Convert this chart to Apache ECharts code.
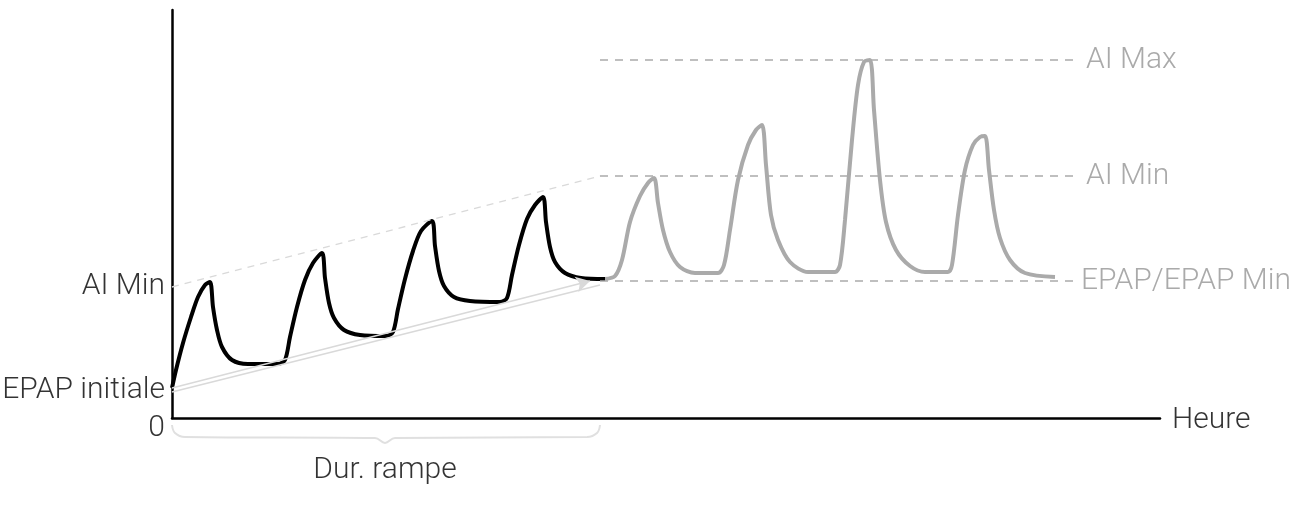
<!DOCTYPE html>
<html>
<head>
<meta charset="utf-8">
<script src="https://cdn.jsdelivr.net/npm/echarts@6/dist/echarts.min.js"></script>
<style>
  html, body { margin: 0; padding: 0; background: #fff; }
  #main { width: 1299px; height: 507px; }
</style>
</head>
<body>
<div id="main"></div>
<script>
// unités schématiques : x = temps, y = pression
var rampWave = [
    [0, 30], [4, 48], [11, 75], [19, 101], [26, 121], [33, 133], [38, 136],
    [41, 111], [45, 88], [50, 71], [60, 58], [76, 54], [106, 54],
    [113, 58], [118, 81], [125, 111], [133, 138], [141, 155], [150, 165],
    [153, 140], [157, 115], [162, 100], [172, 88], [188, 83], [214, 82],
    [221, 86], [226, 109], [233, 139], [241, 167], [249, 187], [260, 197],
    [263, 172], [267, 147], [272, 132], [282, 121], [298, 117], [328, 116],
    [335, 120], [340, 143], [347, 173], [355, 199], [363, 213], [371, 221],
    [374, 196], [378, 171], [383, 156], [393, 145], [409, 140], [433, 139]
];
var steadyWave = [
    [433, 139], [443, 142], [450, 158], [458, 196], [468, 222], [476, 235], [482, 240],
    [486, 215], [491, 188], [498, 166], [508, 151], [523, 145], [546, 145],
    [552, 153], [558, 188], [566, 238], [576, 273], [584, 288], [590, 293],
    [594, 253], [599, 203], [606, 178], [618, 156], [636, 146], [663, 146],
    [668, 153], [673, 198], [680, 278], [686, 333], [692, 356], [698, 358],
    [702, 308], [708, 238], [714, 196], [724, 168], [738, 152], [753, 146], [776, 146],
    [780, 153], [786, 203], [793, 248], [801, 273], [808, 281], [813, 282],
    [817, 248], [822, 208], [828, 180], [838, 158], [853, 145], [883, 141]
];
var rampEnd = 428;          // fin de la rampe
var epapInit = 28;
var aiMinStart = 131;
// libellé, niveau, fin de ligne
var levels = [['AI Max', 358, 908], ['AI Min', 242, 908], ['EPAP/EPAP Min', 137, 903]];
var yLabels = [['AI Min', 132], ['EPAP initiale', 28], ['0', -10]];
var brace = [
    [0, -7], [3, -15], [13, -19], [203, -20], [213, -25], [223, -20],
    [415, -19], [425, -15], [428, -7]
];

var FONT = 'Roboto, "Liberation Sans", sans-serif';
var FS = 30;

var myChart = echarts.init(document.getElementById('main'));

var levelLines = levels.map(function (l) {
    return [
        {coord: [rampEnd, l[1]], label: {formatter: l[0]}},
        {coord: [l[2], l[1]]}
    ];
});

var option = {
    animation: false,
    grid: {left: 172, right: 139, top: 10, bottom: 89},
    xAxis: {
        type: 'value', min: 0, max: 988,
        axisLine: {lineStyle: {color: '#000', width: 2.5}},
        axisTick: {show: false}, axisLabel: {show: false}, splitLine: {show: false}
    },
    yAxis: {
        type: 'value', min: 0, max: 408,
        axisLine: {show: true, lineStyle: {color: '#000', width: 2.5}},
        axisTick: {show: false}, axisLabel: {show: false}, splitLine: {show: false}
    },
    series: [
        {
            // lignes de guide (rampe)
            type: 'line', data: [], clip: false, silent: true,
            markLine: {
                silent: true, symbol: 'none',
                label: {show: false},
                data: [
                    [{coord: [0, aiMinStart], lineStyle: {color: '#d9d9d9', type: [7, 6], width: 1.3}},
                     {coord: [rampEnd, 242]}],
                    [{coord: [0, epapInit - 2], lineStyle: {color: '#d9d9d9', type: 'solid', width: 1.5}},
                     {coord: [rampEnd, 133]}],
                    [{coord: [rampEnd, -7], lineStyle: {color: '#e3e3e3', type: 'solid', width: 1.5}},
                     {coord: [rampEnd, 367]}]
                ]
            }
        },
        {
            type: 'line', data: [], clip: false, silent: true,
            markLine: {
                silent: true, symbol: ['none', 'arrow'], symbolSize: [12, 14],
                label: {show: false},
                lineStyle: {color: '#d9d9d9', type: 'solid', width: 1.5},
                data: [[{coord: [0, epapInit + 2]}, {coord: [418, 137]}]]
            }
        },
        {
            // niveaux
            type: 'line', data: [], clip: false, silent: true,
            markLine: {
                silent: true, symbol: 'none',
                lineStyle: {color: '#aaaaaa', type: [8, 7], width: 1.5},
                label: {
                    show: true, position: 'end', distance: 6,
                    fontFamily: FONT, fontSize: FS, fontWeight: 300, color: '#aaaaaa'
                },
                data: levelLines
            }
        },
        {
            type: 'line', data: brace, clip: false, smooth: 0.4, symbol: 'none', silent: true,
            lineStyle: {color: '#e0e0e0', width: 2}
        },
        {
            type: 'line', data: steadyWave, clip: false, smooth: 0.3, symbol: 'none',
            lineStyle: {color: '#aaaaaa', width: 4}
        },
        {
            type: 'line', data: rampWave, clip: false, smooth: 0.3, symbol: 'none',
            lineStyle: {color: '#000', width: 4}
        },
        {
            type: 'scatter', clip: false, silent: true, symbolSize: 0,
            data: yLabels.map(function (d) { return {value: [0, d[1]], name: d[0]}; }),
            label: {
                show: true, position: 'left', distance: 7,
                formatter: '{b}', fontFamily: FONT, fontSize: FS, fontWeight: 300, color: '#000'
            }
        },
        {
            type: 'scatter', clip: false, silent: true, symbolSize: 0,
            data: [{value: [988, -2], name: 'Heure'}],
            label: {
                show: true, position: 'right', distance: 12,
                formatter: '{b}', fontFamily: FONT, fontSize: FS, fontWeight: 300, color: '#000'
            }
        },
        {
            type: 'scatter', clip: false, silent: true, symbolSize: 0,
            data: [{value: [213, -52], name: 'Dur. rampe'}],
            label: {
                show: true, position: 'inside',
                formatter: '{b}', fontFamily: FONT, fontSize: FS, fontWeight: 300, color: '#000'
            }
        }
    ]
};

myChart.setOption(option);
</script>
</body>
</html>
